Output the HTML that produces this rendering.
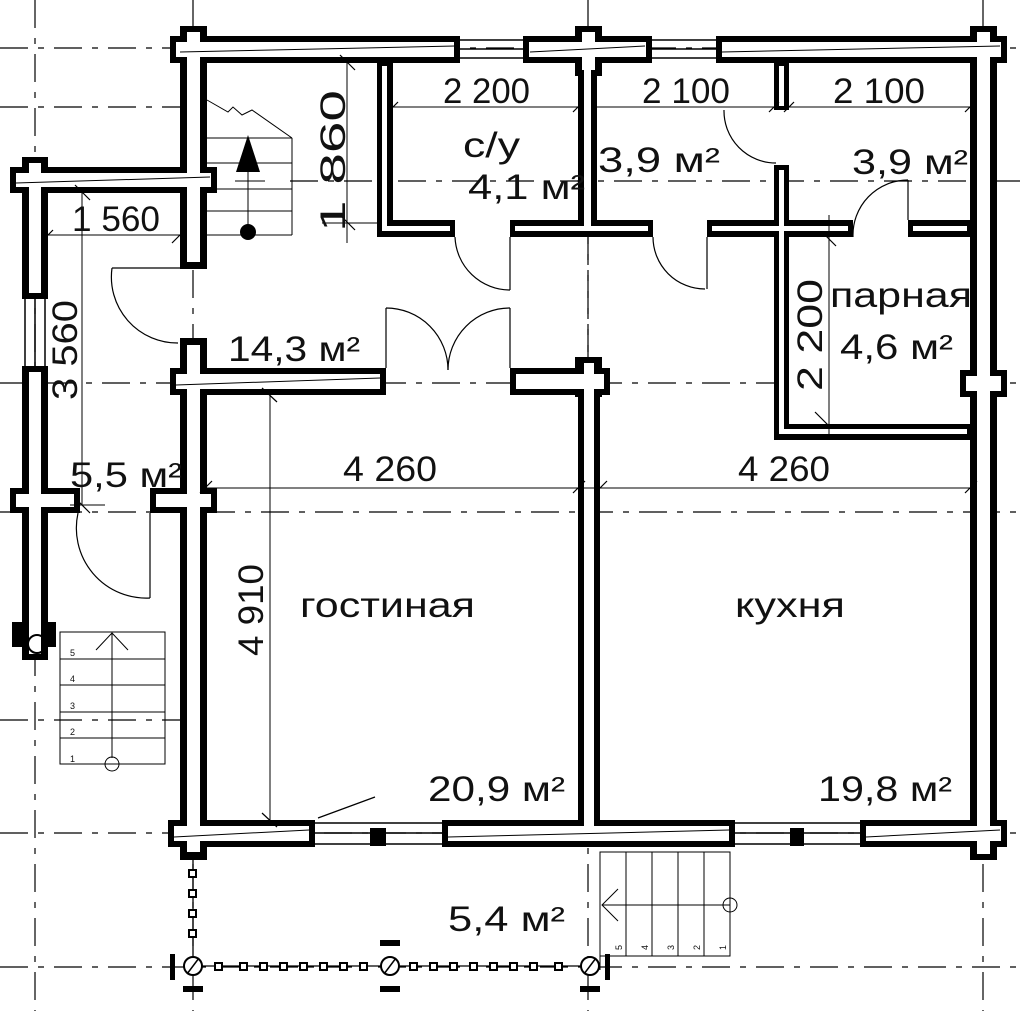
<!DOCTYPE html>
<html><head><meta charset="utf-8"><style>
html,body{margin:0;padding:0;background:#fff;}
svg{display:block;}
text{font-family:"Liberation Sans",sans-serif;fill:#111;}
</style></head><body>
<svg width="1024" height="1011" viewBox="0 0 1024 1011" xmlns="http://www.w3.org/2000/svg">
<g stroke="#000" stroke-width="1.2" stroke-dasharray="28,10,6,10" fill="none">
<line x1="0" y1="48" x2="1024" y2="48"/>
<line x1="0" y1="107" x2="190" y2="107"/>
<line x1="290" y1="181" x2="1024" y2="181"/>
<line x1="0" y1="383" x2="1024" y2="383"/>
<line x1="0" y1="512" x2="1024" y2="512"/>
<line x1="0" y1="720" x2="190" y2="720"/>
<line x1="0" y1="833" x2="1024" y2="833"/>
<line x1="0" y1="967" x2="1024" y2="967"/>
<line x1="35" y1="0" x2="35" y2="1011"/>
<line x1="193" y1="0" x2="193" y2="1011"/>
<line x1="588" y1="0" x2="588" y2="1011"/>
<line x1="983" y1="0" x2="983" y2="1011"/>
</g>
<g fill="#fff">
<rect x="207" y="62" width="370" height="306"/>
<rect x="597" y="62" width="372" height="160"/>
<rect x="48" y="193" width="132" height="295"/>
<rect x="207" y="395" width="371" height="425"/>
<rect x="600" y="395" width="372" height="425"/>
<rect x="790" y="236" width="180" height="188"/>
</g>
<g stroke="#000" stroke-width="1.2" stroke-dasharray="28,10,6,10">
<line x1="207" y1="512" x2="972" y2="512"/>
<line x1="290" y1="181" x2="970" y2="181"/>
<line x1="48" y1="383" x2="180" y2="383"/>
<line x1="588" y1="237" x2="588" y2="368"/>
</g>
<g fill="#000">
<rect x="170" y="36" width="290" height="27"/>
<rect x="523" y="36" width="129" height="27"/>
<rect x="716" y="36" width="291" height="27"/>
<rect x="180" y="26" width="27" height="50"/>
<rect x="575" y="26" width="27" height="50"/>
<rect x="970" y="26" width="27" height="50"/>
<rect x="180" y="36" width="27" height="233"/>
<rect x="180" y="338" width="27" height="520"/>
<rect x="10" y="167" width="207" height="26"/>
<rect x="22" y="157" width="26" height="46"/>
<rect x="22" y="157" width="26" height="142"/>
<rect x="22" y="366" width="26" height="294"/>
<rect x="10" y="488" width="70" height="25"/>
<rect x="150" y="488" width="67" height="25"/>
<rect x="12" y="622" width="44" height="25"/>
<rect x="170" y="368" width="216" height="27"/>
<rect x="510" y="368" width="100" height="27"/>
<rect x="575" y="357" width="27" height="40"/>
<rect x="578" y="357" width="22" height="490"/>
<rect x="970" y="36" width="27" height="824"/>
<rect x="960" y="370" width="47" height="27"/>
<rect x="168" y="820" width="147" height="27"/>
<rect x="442" y="820" width="293" height="27"/>
<rect x="860" y="820" width="147" height="27"/>
<rect x="180" y="820" width="27" height="40"/>
<rect x="377" y="62" width="16" height="175"/>
<rect x="377" y="220" width="78" height="17"/>
<rect x="510" y="220" width="143" height="17"/>
<rect x="578" y="62" width="19" height="175"/>
<rect x="707" y="220" width="146" height="17"/>
<rect x="774" y="62" width="15" height="48"/>
<rect x="774" y="165" width="15" height="275"/>
<rect x="774" y="424" width="198" height="16"/>
<rect x="908" y="220" width="64" height="17"/>
</g>
<g fill="#fff">
<rect x="176" y="42" width="278" height="15"/>
<rect x="529" y="42" width="117" height="15"/>
<rect x="722" y="42" width="279" height="15"/>
<rect x="187" y="32" width="13" height="230"/>
<rect x="582" y="32" width="13" height="38"/>
<rect x="977" y="32" width="13" height="822"/>
<rect x="187" y="345" width="13" height="507"/>
<rect x="16" y="173" width="195" height="14"/>
<rect x="29" y="163" width="12" height="130"/>
<rect x="29" y="372" width="12" height="282"/>
<rect x="16" y="494" width="58" height="13"/>
<rect x="156" y="494" width="55" height="13"/>
<rect x="176" y="374" width="204" height="15"/>
<rect x="516" y="374" width="88" height="15"/>
<rect x="584" y="363" width="10" height="478"/>
<rect x="966" y="376" width="35" height="15"/>
<rect x="174" y="826" width="135" height="15"/>
<rect x="448" y="826" width="281" height="15"/>
<rect x="866" y="826" width="135" height="15"/>
<rect x="382" y="66" width="5" height="165"/>
<rect x="382" y="226" width="68" height="5"/>
<rect x="515" y="226" width="133" height="5"/>
<rect x="584" y="66" width="7" height="160"/>
<rect x="712" y="226" width="136" height="5"/>
<rect x="779" y="66" width="5" height="40"/>
<rect x="779" y="170" width="5" height="264"/>
<rect x="779" y="429" width="188" height="5"/>
<rect x="913" y="226" width="54" height="5"/>
</g>
<g stroke="#000" stroke-width="1">
<line x1="180" y1="52" x2="455" y2="46"/><line x1="530" y1="52" x2="645" y2="46"/><line x1="722" y1="52" x2="1000" y2="46"/>
<line x1="16" y1="183" x2="210" y2="177"/><line x1="176" y1="385" x2="380" y2="378"/><line x1="174" y1="837" x2="309" y2="830"/>
<line x1="448" y1="837" x2="729" y2="830"/><line x1="866" y1="837" x2="1000" y2="830"/>
</g>
<g stroke="#000" stroke-width="1.5" fill="none">
<line x1="460" y1="40" x2="523" y2="40"/><line x1="460" y1="49" x2="523" y2="49"/><line x1="460" y1="58" x2="523" y2="58"/>
<line x1="652" y1="40" x2="716" y2="40"/><line x1="652" y1="49" x2="716" y2="49"/><line x1="652" y1="58" x2="716" y2="58"/>
<line x1="25" y1="299" x2="25" y2="366"/><line x1="35" y1="299" x2="35" y2="366"/><line x1="45" y1="299" x2="45" y2="366"/>
<line x1="315" y1="823" x2="442" y2="823"/><line x1="315" y1="833" x2="442" y2="833"/><line x1="315" y1="844" x2="442" y2="844"/>
<line x1="735" y1="823" x2="860" y2="823"/><line x1="735" y1="833" x2="860" y2="833"/><line x1="735" y1="844" x2="860" y2="844"/>
</g>
<g fill="#000"><rect x="370" y="828" width="16" height="18"/><rect x="790" y="828" width="14" height="18"/></g>
<g stroke="#000" stroke-width="1.2" fill="none">
<path d="M455 237 A55 55 0 0 0 510 290"/><line x1="510" y1="237" x2="510" y2="290"/>
<path d="M653 237 A52 52 0 0 0 705 289"/><line x1="707" y1="237" x2="707" y2="289"/>
<path d="M724 110 A52 52 0 0 0 776 163"/>
<path d="M853 237 A55 55 0 0 1 908 180"/><line x1="908" y1="180" x2="908" y2="220"/>
<path d="M112 268 A66 66 0 0 0 178 343"/><line x1="112" y1="268" x2="180" y2="268"/>
<path d="M78 513 A70 70 0 0 0 150 598"/><line x1="150" y1="513" x2="150" y2="598"/>
<line x1="386" y1="308" x2="386" y2="368"/><line x1="510" y1="308" x2="510" y2="368"/>
<path d="M386 308 A62 62 0 0 1 448 370"/><path d="M510 308 A62 62 0 0 0 448 370"/>
<line x1="318" y1="818" x2="375" y2="797"/>
</g>
<g stroke="#000" stroke-width="1" fill="none">
<polyline points="207,100 228,112 233,107 242,115 252,110 292,138"/>
<line x1="207" y1="138" x2="292" y2="138"/><line x1="207" y1="163" x2="292" y2="163"/><line x1="207" y1="189" x2="292" y2="189"/><line x1="207" y1="211" x2="292" y2="211"/><line x1="207" y1="235" x2="292" y2="235"/>
<line x1="292" y1="138" x2="292" y2="235"/>
<line x1="248" y1="170" x2="248" y2="232"/>
<line x1="235" y1="181" x2="265" y2="181"/>
</g>
<polygon points="248,135 236,172 260,172" fill="#000"/>
<circle cx="248" cy="232" r="8" fill="#000"/>
<g stroke="#000" stroke-width="1" fill="none">
<rect x="60" y="632" width="105" height="132"/>
<line x1="60" y1="659" x2="165" y2="659"/><line x1="60" y1="685" x2="165" y2="685"/><line x1="60" y1="712" x2="165" y2="712"/><line x1="60" y1="738" x2="165" y2="738"/>
<line x1="112" y1="633" x2="112" y2="758"/><polyline points="96,650 112,633 128,650"/>
<circle cx="112" cy="764" r="7"/>
<circle cx="37" cy="644" r="9" stroke-width="2"/>
</g>
<g font-size="9"><text x="70" y="656">5</text><text x="70" y="682">4</text><text x="70" y="709">3</text><text x="70" y="735">2</text><text x="70" y="762">1</text></g>
<g stroke="#000" stroke-width="1" fill="none">
<rect x="600" y="852" width="130" height="104"/>
<line x1="626" y1="852" x2="626" y2="956"/><line x1="652" y1="852" x2="652" y2="956"/><line x1="678" y1="852" x2="678" y2="956"/><line x1="704" y1="852" x2="704" y2="956"/>
<line x1="602" y1="905" x2="730" y2="905"/><polyline points="618,889 602,905 618,921"/>
<circle cx="730" cy="905" r="7"/>
<line x1="600" y1="852" x2="600" y2="970"/>
</g>
<g fill="none" stroke="#000" stroke-width="1.3">
<line x1="193" y1="860" x2="193" y2="966"/><line x1="193" y1="966" x2="590" y2="966"/>
</g>
<g fill="#fff" stroke="#000" stroke-width="2">
<rect x="189" y="870" width="7" height="7"/><rect x="189" y="890" width="7" height="7"/><rect x="189" y="910" width="7" height="7"/><rect x="189" y="930" width="7" height="7"/>
<rect x="215" y="963" width="7" height="7"/><rect x="240" y="963" width="7" height="7"/><rect x="260" y="963" width="7" height="7"/><rect x="280" y="963" width="7" height="7"/><rect x="300" y="963" width="7" height="7"/><rect x="320" y="963" width="7" height="7"/><rect x="340" y="963" width="7" height="7"/><rect x="360" y="963" width="7" height="7"/>
<rect x="410" y="963" width="7" height="7"/><rect x="430" y="963" width="7" height="7"/><rect x="450" y="963" width="7" height="7"/><rect x="470" y="963" width="7" height="7"/><rect x="490" y="963" width="7" height="7"/><rect x="510" y="963" width="7" height="7"/><rect x="530" y="963" width="7" height="7"/><rect x="555" y="963" width="7" height="7"/>
<circle cx="193" cy="966" r="9"/><circle cx="390" cy="966" r="9"/><circle cx="590" cy="966" r="9"/>
</g>
<g stroke="#000" stroke-width="1.5"><line x1="187" y1="974" x2="199" y2="958"/><line x1="384" y1="974" x2="396" y2="958"/><line x1="584" y1="974" x2="596" y2="958"/></g>
<g fill="#000">
<rect x="170" y="954" width="5" height="26"/><rect x="605" y="954" width="5" height="26"/>
<rect x="380" y="940" width="20" height="6"/><rect x="380" y="986" width="20" height="6"/>
<rect x="183" y="986" width="20" height="6"/><rect x="580" y="986" width="20" height="6"/>
</g>
<g stroke="#000" stroke-width="1">
<line x1="393" y1="107" x2="578" y2="107"/><line x1="597" y1="107" x2="774" y2="107"/><line x1="789" y1="107" x2="970" y2="107"/>
<line x1="48" y1="235" x2="180" y2="235"/>
<line x1="347" y1="62" x2="347" y2="243"/><line x1="322" y1="223" x2="377" y2="223"/>
<line x1="82" y1="193" x2="82" y2="505"/><line x1="70" y1="505" x2="105" y2="505"/>
<line x1="207" y1="488" x2="972" y2="488"/>
<line x1="270" y1="395" x2="270" y2="820"/>
<line x1="829" y1="215" x2="829" y2="440"/>
</g>
<g stroke="#000" stroke-width="1.2">
<line x1="388" y1="112" x2="398" y2="102"/><line x1="573" y1="112" x2="583" y2="102"/><line x1="769" y1="112" x2="779" y2="102"/><line x1="784" y1="112" x2="794" y2="102"/><line x1="965" y1="112" x2="975" y2="102"/>
<line x1="43" y1="240" x2="53" y2="230"/><line x1="172" y1="243" x2="182" y2="233"/>
<line x1="340" y1="55" x2="355" y2="70"/><line x1="340" y1="215" x2="355" y2="230"/>
<line x1="75" y1="185" x2="90" y2="200"/><line x1="75" y1="498" x2="90" y2="513"/>
<line x1="200" y1="493" x2="212" y2="481"/><line x1="573" y1="493" x2="585" y2="481"/><line x1="595" y1="493" x2="607" y2="481"/><line x1="965" y1="493" x2="977" y2="481"/>
<line x1="262" y1="388" x2="277" y2="402"/><line x1="262" y1="813" x2="277" y2="827"/>
<line x1="822" y1="232" x2="836" y2="246"/><line x1="815" y1="412" x2="829" y2="426"/>
</g>
<g font-size="35">
<text x="443" y="103" textLength="87" lengthAdjust="spacingAndGlyphs">2 200</text>
<text x="642" y="103" textLength="88" lengthAdjust="spacingAndGlyphs">2 100</text>
<text x="833" y="103" textLength="92" lengthAdjust="spacingAndGlyphs">2 100</text>
<text x="72" y="231" textLength="88" lengthAdjust="spacingAndGlyphs">1 560</text>
<text x="463" y="157" textLength="57" lengthAdjust="spacingAndGlyphs">с/у</text>
<text x="468" y="199" textLength="117" lengthAdjust="spacingAndGlyphs">4,1 м²</text>
<text x="598" y="172" textLength="122" lengthAdjust="spacingAndGlyphs">3,9 м²</text>
<text x="852" y="174" textLength="116" lengthAdjust="spacingAndGlyphs">3,9 м²</text>
<text x="830" y="307" textLength="142" lengthAdjust="spacingAndGlyphs">парная</text>
<text x="840" y="359" textLength="113" lengthAdjust="spacingAndGlyphs">4,6 м²</text>
<text x="228" y="361" textLength="132" lengthAdjust="spacingAndGlyphs">14,3 м²</text>
<text x="70" y="487" textLength="112" lengthAdjust="spacingAndGlyphs">5,5 м²</text>
<text x="343" y="481" textLength="94" lengthAdjust="spacingAndGlyphs">4 260</text>
<text x="738" y="481" textLength="92" lengthAdjust="spacingAndGlyphs">4 260</text>
<text x="300" y="617" textLength="175" lengthAdjust="spacingAndGlyphs">гостиная</text>
<text x="735" y="617" textLength="110" lengthAdjust="spacingAndGlyphs">кухня</text>
<text x="428" y="801" textLength="137" lengthAdjust="spacingAndGlyphs">20,9 м²</text>
<text x="818" y="801" textLength="134" lengthAdjust="spacingAndGlyphs">19,8 м²</text>
<text x="448" y="931" textLength="117" lengthAdjust="spacingAndGlyphs">5,4 м²</text>
<text transform="translate(345,161) rotate(-90)" text-anchor="middle" textLength="142" lengthAdjust="spacingAndGlyphs">1 860</text>
<text transform="translate(77,350) rotate(-90)" text-anchor="middle" textLength="100" lengthAdjust="spacingAndGlyphs">3 560</text>
<text transform="translate(263,610) rotate(-90)" text-anchor="middle" textLength="92" lengthAdjust="spacingAndGlyphs">4 910</text>
<text transform="translate(822,335) rotate(-90)" text-anchor="middle" textLength="112" lengthAdjust="spacingAndGlyphs">2 200</text>
</g>
<g font-size="9"><text transform="translate(622,950) rotate(-90)">5</text><text transform="translate(648,950) rotate(-90)">4</text><text transform="translate(674,950) rotate(-90)">3</text><text transform="translate(700,950) rotate(-90)">2</text><text transform="translate(726,950) rotate(-90)">1</text></g>
</svg>
</body></html>
